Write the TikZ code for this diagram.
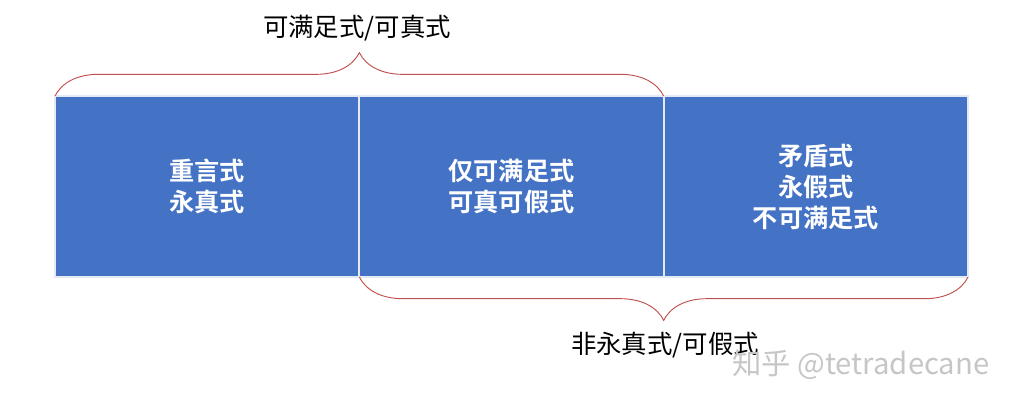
\documentclass[tikz,border=0pt]{standalone}
\usepackage{fontspec}
\setmainfont{Noto Sans CJK SC}[BoldFont=* Bold]
\usepackage{tikz}
\usepackage{xcolor}
\usetikzlibrary{positioning, decorations.pathreplacing}
\definecolor{cellblue}{HTML}{4472C4}
\definecolor{bracered}{HTML}{C0504D}
\tikzset{%
  cell/.style={draw=white!85!cellblue, line width=0.6mm, fill=cellblue, minimum width=9.13cm, minimum height=5.43cm,
    inner sep=0mm, outer sep=0mm, align=center, text=white, font=\fontsize{21.5}{26.5}\selectfont\bfseries},
  label/.style={font=\fontsize{21.7}{26}\selectfont, inner sep=0mm},
  brace/.style={
    draw=bracered, thick,
    decorate,
    decoration={brace,amplitude=1.3cm},
  },
}
\begin{document}
\begin{tikzpicture}[x=0.03cm, y=-0.03cm]
  \useasboundingbox (0,0) rectangle (1025,409);

  \node[cell, anchor=north west] (0) at (55,96) {重言式\\永真式};
  \node[cell, right=0mm of 0] (1) {仅可满足式\\可真可假式};
  \node[cell, right=0mm of 1] (2) {矛盾式\\永假式\\不可满足式};

  \draw[brace] (0.north west) -- (1.north east) coordinate[midway] (top);
  \draw[brace, decoration={mirror}] (1.south west) -- (2.south east) coordinate[midway] (bot);

  \node[label] (sat) at (357,28) {可满足式/可真式};
  \node[label] (fal) at (665,345) {非永真式/可假式};

  \node[label, text=gray!45, font=\fontsize{25}{28}\selectfont] (mark) at (861,365) {知乎 @tetradecane};
\end{tikzpicture}
\end{document}
